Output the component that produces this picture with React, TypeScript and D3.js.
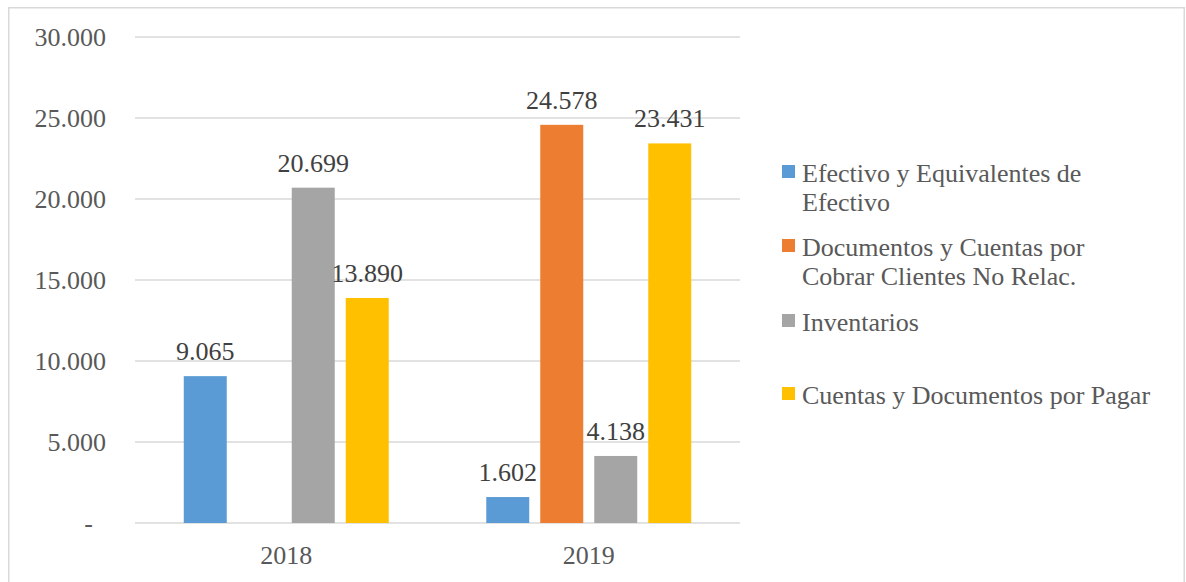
import React from "react";
import * as d3 from "d3";

const categories = ["2018", "2019"];
const seriesNames = [
  "Efectivo y Equivalentes de Efectivo",
  "Documentos y Cuentas por Cobrar Clientes No Relac.",
  "Inventarios",
  "Cuentas y Documentos por Pagar",
];
const legendLines = [
  ["Efectivo y Equivalentes de", "Efectivo"],
  ["Documentos y Cuentas por", "Cobrar Clientes No Relac."],
  ["Inventarios"],
  ["Cuentas y Documentos por Pagar"],
];
const colors = ["#5b9bd5", "#ed7d31", "#a5a5a5", "#ffc000"];
// values[series][category]
const efectivo = [9065, 1602];
const documentosCobrar = [null, 24578];
const inventarios = [20699, 4138];
const cuentasPagar = [13890, 23431];
const values: (number | null)[][] = [efectivo, documentosCobrar, inventarios, cuentasPagar];
const yTicks = [0, 5000, 10000, 15000, 20000, 25000, 30000];

const W = 1186;
const H = 582;
const FONT = 'Liberation Serif, Tinos, Times, DejaVu Serif, Noto Serif, serif';
const FS = 26;
const tStyle = { fontFamily: FONT };

const fmt = (v: number) => (v === 0 ? "-" : d3.format(",")(v).replace(/,/g, "."));

export default function App() {
  const y = d3.scaleLinear().domain([0, 30000]).range([523, 37]);
  const x0 = d3
    .scaleBand<string>()
    .domain(categories)
    .range([135, 740])
    .paddingInner(0.286)
    .paddingOuter(0.143);
  const x1 = d3
    .scaleBand<string>()
    .domain(seriesNames)
    .range([0, x0.bandwidth()])
    .paddingInner(0.2037)
    .paddingOuter(0.1019);

  const legendBaselines = [[182, 211], [256, 285], [331], [404]];
  const legendSquareY = [165, 239, 314, 387];

  return (
    <div style={{ position: "absolute", left: 0, top: 0 }}>
      <svg width={W} height={H} style={{ display: "block", background: "#fff", fontFamily: FONT }}>
        <path d={`M8.75,${H} V7.75 H1184.25 V${H}`} fill="none" stroke="#d9d9d9" strokeWidth={1.5} />
        {yTicks.map((t) => (
          <g key={t}>
            <line x1={135} x2={740} y1={y(t)} y2={y(t)} stroke="#d9d9d9" strokeWidth={1.5} />
            <text
              x={t === 0 ? 93 : 106}
              y={y(t)}
              dy="0.35em"
              textAnchor="end"
              fontSize={FS}
              fill="#595959"
              style={tStyle}
            >
              {fmt(t)}
            </text>
          </g>
        ))}
        {categories.map((c, ci) => (
          <g key={c}>
            {seriesNames.map((s, si) => {
              const v = values[si][ci];
              if (v == null) return null;
              const bx = (x0(c) as number) + (x1(s) as number);
              return (
                <g key={s}>
                  <rect x={bx} y={y(v)} width={x1.bandwidth()} height={y(0) - y(v)} fill={colors[si]} />
                  <text
                    x={bx + x1.bandwidth() / 2}
                    y={y(v) - 16}
                    textAnchor="middle"
                    fontSize={FS}
                    fill="#404040"
                    style={tStyle}
                  >
                    {fmt(v)}
                  </text>
                </g>
              );
            })}
            <text
              x={(x0(c) as number) + x0.bandwidth() / 2}
              y={564}
              textAnchor="middle"
              fontSize={FS}
              fill="#595959"
              style={tStyle}
            >
              {c}
            </text>
          </g>
        ))}
        {legendLines.map((lines, i) => (
          <g key={i}>
            <rect x={782} y={legendSquareY[i]} width={13} height={13} fill={colors[i]} />
            {lines.map((ln, li) => (
              <text key={li} x={802} y={legendBaselines[i][li]} fontSize={FS} fill="#595959" style={tStyle}>
                {ln}
              </text>
            ))}
          </g>
        ))}
      </svg>
    </div>
  );
}
